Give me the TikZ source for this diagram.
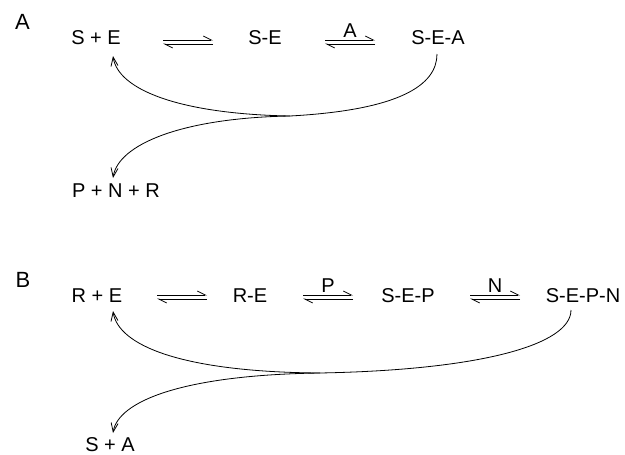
\documentclass[tikz,border=0pt]{standalone}
\usepackage{fontspec}
\setmainfont{Liberation Sans}
\usetikzlibrary{arrows.meta}

\begin{document}
\begin{tikzpicture}[x=1pt, y=-1pt, line width=0.8pt,
  every node/.style={anchor=base, inner sep=0pt, font=\fontsize{20}{24}\selectfont},
  eq/.style={-{Straight Barb[left, length=8pt, width=8pt]}},
  ret/.style={-{Straight Barb[length=9pt, width=7pt]}}]
\useasboundingbox (0,0) rectangle (625,455);

\node (a) at (22.5,30) [font=\fontsize{22}{26}\selectfont] {A};
\node (1) at (96,45) {S + E};
\node (2) at (265,45) {S-E};
\node (3) at (438,45) {S-E-A};
\node (4) at (116,197) {P + N + R};
\coordinate (m1) at (290,116);

\draw [eq] ([shift={(67,-5)}]1.base) -- ([shift={(-52,-5)}]2.base);
\draw [eq] ([shift={(-52,-1)}]2.base) -- ([shift={(67,-1)}]1.base);
\draw [eq] ([shift={(60,-5)}]2.base) -- node[above=2pt] {A} ([shift={(-63,-5)}]3.base);
\draw [eq] ([shift={(-63,-1)}]3.base) -- ([shift={(60,-1)}]2.base);

\draw ([shift={(-1,9)}]3.base) .. controls +(0,31) and +(110,-6) .. (m1);
\draw [ret] (m1) .. controls +(-110,-2) and +(5,34) .. ([shift={(17,11)}]1.base);
\draw [ret] (m1) .. controls +(-110,2) and +(5,-33) .. ([shift={(-3,-19)}]4.base);

\node (b) at (23,287) [font=\fontsize{22}{26}\selectfont] {B};
\node (5) at (97,302) {R + E};
\node (6) at (250,302) {R-E};
\node (7) at (408,302) {S-E-P};
\node (8) at (583,302) {S-E-P-N};
\node (9) at (110,451) {S + A};
\coordinate (m2) at (320,373);

\draw [eq] ([shift={(60,-7)}]5.base) -- ([shift={(-43,-7)}]6.base);
\draw [eq] ([shift={(-43,-3)}]6.base) -- ([shift={(60,-3)}]5.base);
\draw [eq] ([shift={(53,-7)}]6.base) -- node[above=2pt] {P} ([shift={(-55,-7)}]7.base);
\draw [eq] ([shift={(-55,-3)}]7.base) -- ([shift={(53,-3)}]6.base);
\draw [eq] ([shift={(62,-7)}]7.base) -- node[above=2pt] {N} ([shift={(-63,-7)}]8.base);
\draw [eq] ([shift={(-63,-3)}]8.base) -- ([shift={(62,-3)}]7.base);

\draw ([shift={(-12,8)}]8.base) .. controls +(0,35) and +(160,-3) .. (m2);
\draw [ret] (m2) .. controls +(-140,-1) and +(5,34) .. ([shift={(16,9)}]5.base);
\draw [ret] (m2) .. controls +(-140,2) and +(5,-31) .. ([shift={(3,-18)}]9.base);

\end{tikzpicture}
\end{document}
